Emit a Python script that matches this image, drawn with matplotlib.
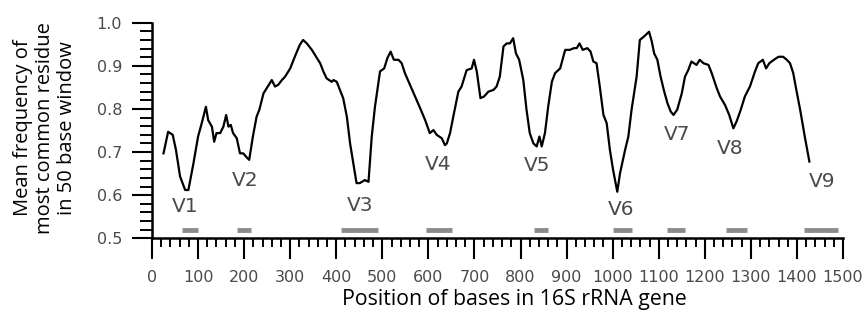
import matplotlib.pyplot as plt
from matplotlib.ticker import MultipleLocator

# values
pos = [25, 35, 45, 52, 61, 72, 79, 90, 100, 108, 117, 122, 130, 135, 140, 148,
       155, 161, 166, 171, 176, 184, 191, 198, 207, 211, 219, 227, 233, 242,
       249, 260, 267, 274, 282, 289, 300, 310, 321, 328, 336, 347, 354, 365,
       372, 379, 390, 394, 401, 408, 415, 423, 430, 437, 444, 451, 462, 470,
       477, 484, 495, 504, 511, 518, 525, 535, 542, 549, 560, 571, 582, 593,
       603, 611, 618, 629, 636, 640, 647, 654, 665, 672, 683, 694, 699, 705,
       713, 721, 730, 741, 748, 755, 763, 770, 777, 784, 790, 797, 806, 813,
       820, 828, 835, 841, 846, 853, 860, 868, 875, 886, 893, 897, 907, 916,
       922, 928, 935, 945, 952, 958, 965, 972, 980, 987, 994, 1001, 1010,
       1016, 1027, 1034, 1041, 1052, 1059, 1068, 1079, 1085, 1090, 1097, 1104,
       1111, 1119, 1126, 1132, 1140, 1150, 1157, 1164, 1171, 1182, 1189, 1197,
       1208, 1215, 1226, 1233, 1244, 1253, 1262, 1269, 1278, 1287, 1298, 1309,
       1316, 1326, 1333, 1340, 1350, 1360, 1370, 1378, 1385, 1392, 1398, 1407,
       1417, 1427]
freq = [0.697, 0.747, 0.740, 0.705, 0.643, 0.612, 0.612, 0.674, 0.736, 0.767,
        0.805, 0.774, 0.759, 0.724, 0.744, 0.744, 0.759, 0.786, 0.759, 0.763,
        0.744, 0.732, 0.697, 0.697, 0.686, 0.682, 0.736, 0.782, 0.798, 0.836,
        0.848, 0.867, 0.852, 0.856, 0.867, 0.875, 0.894, 0.921, 0.949, 0.960,
        0.952, 0.937, 0.925, 0.906, 0.887, 0.871, 0.863, 0.867, 0.863, 0.844,
        0.825, 0.782, 0.720, 0.674, 0.628, 0.628, 0.635, 0.631, 0.736, 0.805,
        0.887, 0.894, 0.918, 0.933, 0.914, 0.914, 0.906, 0.883, 0.856, 0.829,
        0.802, 0.774, 0.744, 0.751, 0.740, 0.732, 0.716, 0.720, 0.744, 0.782,
        0.840, 0.852, 0.890, 0.894, 0.914, 0.887, 0.825, 0.829, 0.840, 0.844,
        0.852, 0.875, 0.945, 0.952, 0.952, 0.964, 0.929, 0.914, 0.867, 0.798,
        0.744, 0.720, 0.713, 0.736, 0.713, 0.744, 0.805, 0.863, 0.883, 0.894,
        0.921, 0.937, 0.937, 0.941, 0.941, 0.952, 0.937, 0.941, 0.933, 0.910,
        0.906, 0.852, 0.786, 0.767, 0.705, 0.658, 0.608, 0.651, 0.705, 0.736,
        0.798, 0.875, 0.960, 0.968, 0.979, 0.956, 0.929, 0.914, 0.875, 0.844,
        0.813, 0.794, 0.786, 0.798, 0.836, 0.875, 0.890, 0.910, 0.902, 0.914,
        0.906, 0.902, 0.883, 0.848, 0.829, 0.809, 0.786, 0.755, 0.771, 0.798,
        0.829, 0.852, 0.887, 0.906, 0.914, 0.894, 0.906, 0.914, 0.921, 0.921,
        0.914, 0.906, 0.883, 0.848, 0.798, 0.736, 0.678]

regions = ["V1", "V2", "V3", "V4", "V5", "V6", "V7", "V8", "V9"]
reg_start = [65, 185, 410, 595, 830, 1000, 1118, 1245, 1415]
reg_end = [100, 215, 490, 652, 860, 1043, 1156, 1292, 1490]
label_x = [72, 202, 451, 621, 835, 1019, 1139, 1255, 1454]
label_y = [0.573, 0.635, 0.577, 0.670, 0.668, 0.566, 0.740, 0.709, 0.631]

tick_col = "#4a4a4a"
plt.rcParams["font.family"] = ["DejaVu Sans"]

fig = plt.figure(figsize=(8.66, 3.2), dpi=100)
ax = fig.add_axes([152 / 866, 81.7 / 320, 691 / 866, 215.6 / 320])

ax.plot(pos, freq, color="black", lw=1.6)
ax.hlines([0.52] * len(regions), reg_start, reg_end, color="#8c8c8c", lw=3.5)
for name, lx, ly in zip(regions, label_x, label_y):
    ax.text(lx, ly, name, ha="center", va="center", fontsize=14.5, color=tick_col)

ax.set_xlim(0, 1500)
ax.set_ylim(0.5, 1.0)
ax.xaxis.set_major_locator(MultipleLocator(100))
ax.xaxis.set_minor_locator(MultipleLocator(20))
ax.yaxis.set_major_locator(MultipleLocator(0.1))
ax.yaxis.set_minor_locator(MultipleLocator(0.02))
ax.set_yticklabels([f"{v:.1f}" for v in ax.get_yticks()])

for s in ["top", "right"]:
    ax.spines[s].set_visible(False)
for s in ["left", "bottom"]:
    ax.spines[s].set_linewidth(1.8)

ax.tick_params(axis="x", which="major", length=15, width=1.5, pad=8,
               labelsize=11.5, labelcolor=tick_col)
ax.tick_params(axis="x", which="minor", length=6.5, width=1.4)
ax.tick_params(axis="y", which="major", length=14.5, width=1.5, pad=7,
               labelsize=11.5, labelcolor=tick_col)
ax.tick_params(axis="y", which="minor", length=8.5, width=1.4)

fig.text(514 / 866, 1 - 300 / 320, "Position of bases in 16S rRNA gene",
         ha="center", va="center", fontsize=15.3, family="Open Sans")
fig.text(45 / 866, 1 - 128 / 320,
         "Mean frequency of\nmost common residue\nin 50 base window",
         ha="center", va="center", rotation=90, fontsize=14.5,
         family="Open Sans", linespacing=1.15)

fig.savefig("out.png", dpi=100)
